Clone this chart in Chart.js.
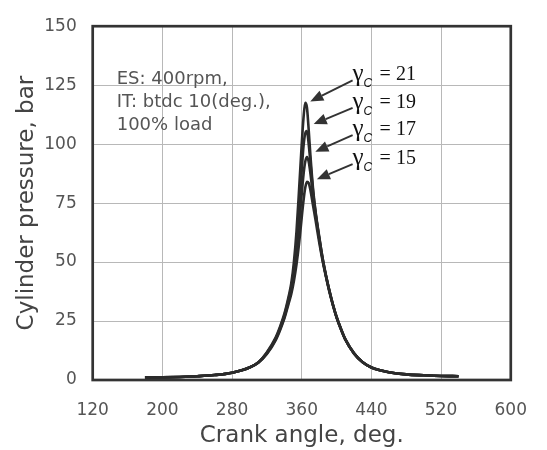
<!DOCTYPE html>
<html>
<head>
<meta charset="utf-8">
<script src="https://cdn.jsdelivr.net/npm/chart.js@4"></script>
<style>
  html, body { margin: 0; padding: 0; background: #fff; }
  canvas { display: block; }
</style>
</head>
<body>
<canvas id="pressureChart" width="547" height="450"></canvas>
<script>
// Crank angle (deg.) sample points shared by all curves
const angles = [180, 200, 220, 240, 260, 280, 300, 310, 320, 330, 335, 340, 345, 348, 351, 354, 357, 360, 362, 364, 366, 368, 370, 373, 376, 380, 384, 388, 392, 396, 400, 405, 410, 420, 430, 440, 450, 460, 480, 500, 520, 540];

// Cylinder pressure (bar) for each compression ratio
const pressure21 = [1.0, 1.1, 1.3, 1.6, 2.1, 3.1, 5.3, 7.4, 11.8, 18.0, 22.5, 28.0, 35.5, 41.0, 50.0, 63.0, 81.0, 100.0, 111.0, 117.5, 115.5, 106.0, 95.0, 81.0, 71.0, 61.0, 51.5, 44.0, 37.5, 31.7, 26.7, 21.7, 17.3, 11.3, 7.5, 5.3, 4.1, 3.3, 2.4, 2.0, 1.7, 1.6];
const pressure19 = [1.0, 1.1, 1.3, 1.6, 2.1, 3.1, 5.3, 7.4, 11.5, 17.6, 22.0, 27.3, 34.5, 39.5, 47.0, 58.0, 73.0, 89.0, 99.0, 104.5, 105.5, 100.0, 92.0, 80.0, 70.5, 60.5, 51.5, 44.0, 37.5, 31.7, 26.7, 21.7, 17.3, 11.3, 7.5, 5.3, 4.1, 3.3, 2.4, 2.0, 1.7, 1.6];
const pressure17 = [1.0, 1.1, 1.3, 1.6, 2.1, 3.1, 5.3, 7.3, 11.2, 17.2, 21.5, 26.6, 33.5, 38.0, 45.0, 54.0, 66.0, 79.0, 87.0, 92.5, 94.5, 92.5, 87.5, 78.0, 70.0, 60.0, 51.0, 43.8, 37.3, 31.6, 26.6, 21.6, 17.2, 11.3, 7.5, 5.3, 4.1, 3.3, 2.4, 2.0, 1.7, 1.6];
const pressure15 = [1.0, 1.1, 1.3, 1.6, 2.1, 3.1, 5.3, 7.3, 11.0, 16.8, 21.0, 26.0, 32.5, 36.5, 42.0, 49.0, 58.0, 69.0, 76.0, 81.5, 84.0, 83.5, 80.5, 74.0, 67.5, 58.5, 50.5, 43.5, 37.0, 31.4, 26.5, 21.5, 17.1, 11.3, 7.5, 5.3, 4.1, 3.3, 2.4, 2.0, 1.7, 1.6];

// Axis ticks
const xTicks = [120, 200, 280, 360, 440, 520, 600];
const yTicks = [0, 25, 50, 75, 100, 125, 150];

// Compression ratio labels and their arrows (data units)
const ratioLabels = ['21', '19', '17', '15'];
const arrowFromAngle = 418.4;
const arrowFromP = [127.0, 115.4, 103.8, 91.5];
const arrowToAngle = [369.8, 373.7, 375.6, 377.4];
const arrowToP = [118.1, 108.5, 96.8, 85.1];

const noteLines = ['ES: 400rpm,', 'IT: btdc 10(deg.),', '100% load'];

const series = [pressure21, pressure19, pressure17, pressure15];

const annotations = {
  id: 'annotations',
  afterDraw(chart) {
    const { ctx, chartArea, scales: { x, y } } = chart;
    ctx.save();

    // plot frame
    ctx.strokeStyle = '#333';
    ctx.lineWidth = 2.7;
    ctx.strokeRect(chartArea.left, chartArea.top, chartArea.right - chartArea.left, chartArea.bottom - chartArea.top);

    // test conditions
    ctx.fillStyle = '#555';
    ctx.font = '18px "DejaVu Sans"';
    ctx.textBaseline = 'alphabetic';
    ctx.textAlign = 'left';
    noteLines.forEach((t, i) => {
      ctx.fillText(t, chartArea.left + 24, chartArea.top + 57.3 + i * 23.35);
    });

    // arrows + ratio labels
    ratioLabels.forEach((lab, i) => {
      const tx = x.getPixelForValue(arrowFromAngle);
      const ty = y.getPixelForValue(arrowFromP[i]);
      const px = x.getPixelForValue(arrowToAngle[i]);
      const py = y.getPixelForValue(arrowToP[i]);
      const ang = Math.atan2(py - ty, px - tx);
      const headLen = 13, headHalf = 5.5;
      const bx = px - headLen * Math.cos(ang);
      const by = py - headLen * Math.sin(ang);

      ctx.strokeStyle = '#333';
      ctx.lineWidth = 1.9;
      ctx.beginPath();
      ctx.moveTo(tx, ty);
      ctx.lineTo(bx, by);
      ctx.stroke();

      ctx.fillStyle = '#333';
      ctx.beginPath();
      ctx.moveTo(px, py);
      ctx.lineTo(bx + headHalf * Math.sin(ang), by - headHalf * Math.cos(ang));
      ctx.lineTo(bx - headHalf * Math.sin(ang), by + headHalf * Math.cos(ang));
      ctx.closePath();
      ctx.fill();

      ctx.fillStyle = '#111';
      ctx.font = '25px "Liberation Serif"';
      ctx.fillText('\u03b3', tx, ty + 1);
      ctx.font = 'italic 12px "Liberation Sans"';
      ctx.fillText('C', tx + 11, ty + 7);
      ctx.font = '20px "Liberation Serif"';
      ctx.fillText('= ' + lab, tx + 27, ty);
    });

    ctx.restore();
  }
};

new Chart(document.getElementById('pressureChart'), {
  type: 'line',
  data: {
    datasets: series.map((vals, i) => ({
      label: '\u03b3c = ' + ratioLabels[i],
      data: angles.map((a, j) => ({ x: a, y: vals[j] })),
      borderColor: '#2b2b2b',
      borderWidth: 2.6,
      pointRadius: 0,
      fill: false,
      cubicInterpolationMode: 'monotone'
    }))
  },
  options: {
    responsive: false,
    animation: false,
    layout: { padding: { left: 0, right: 24, top: 16, bottom: 0 } },
    plugins: {
      legend: { display: false },
      tooltip: { enabled: false }
    },
    scales: {
      x: {
        type: 'linear',
        min: xTicks[0],
        max: xTicks[xTicks.length - 1],
        afterFit: s => { s.height = 70; },
        afterBuildTicks: s => { s.ticks = xTicks.map(v => ({ value: v })); },
        grid: { color: '#b8b8b8', lineWidth: 1, drawTicks: false },
        border: { display: false },
        ticks: {
          color: '#555',
          font: { family: 'DejaVu Sans', size: 17 },
          padding: 20,
          maxRotation: 0
        },
        title: {
          display: true,
          text: 'Crank angle, deg.',
          color: '#444',
          font: { family: 'DejaVu Sans', size: 23 },
          padding: { top: 0, bottom: 0 }
        }
      },
      y: {
        min: yTicks[0],
        max: yTicks[yTicks.length - 1],
        afterFit: s => { s.width = 92.7; },
        afterBuildTicks: s => { s.ticks = yTicks.map(v => ({ value: v })); },
        grid: { color: '#b8b8b8', lineWidth: 1, drawTicks: false },
        border: { display: false },
        ticks: {
          color: '#555',
          font: { family: 'DejaVu Sans', size: 17 },
          padding: 16
        },
        title: {
          display: true,
          text: 'Cylinder pressure, bar',
          color: '#444',
          font: { family: 'DejaVu Sans', size: 23 },
          padding: { top: 13, bottom: 0 }
        }
      }
    }
  },
  plugins: [annotations]
});
</script>
</body>
</html>
